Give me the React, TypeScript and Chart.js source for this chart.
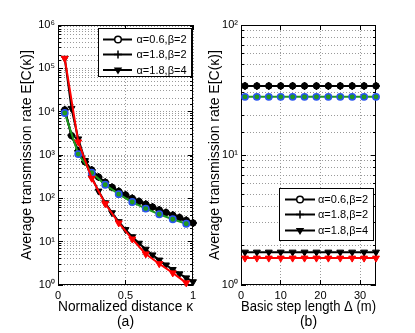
import React, { useEffect, useRef } from 'react';
import { Chart, registerables } from 'chart.js';
Chart.register(...registerables);

// ---------- data ----------
const kappaFine = [0.05, 0.1, 0.15, 0.2, 0.25, 0.3, 0.35, 0.4, 0.45, 0.5, 0.55, 0.6, 0.65, 0.7, 0.75, 0.8, 0.85, 0.9, 0.95, 1.0];
const kappaCoarse = [0.05, 0.15, 0.25, 0.35, 0.45, 0.55, 0.65, 0.75, 0.85, 0.95];

const leftA06B2 = [11000, 2800, 1250, 700, 450, 310, 235, 180, 145, 120, 100, 85, 73, 63, 54, 47, 41, 36, 31, 27];
const leftA18B2 = [11000, 2800, 1250, 700, 450, 310, 235, 180, 145, 120, 100, 85, 73, 63, 54, 47, 41, 36, 31, 27];
const leftA18B4 = [170000, 11900, 2350, 745, 305, 147, 79, 46.5, 29, 19, 13, 9.2, 6.7, 4.95, 3.76, 2.9, 2.28, 1.81, 1.46, 1.19];
const leftTheoryB2 = [9300, 1050, 390, 205, 125, 82, 58, 43, 33, 26];
const leftTheoryB4 = [170000, 2000, 290, 75, 27, 11.5, 5.2, 3.1, 1.9, 1.12];

const stepLength = [1, 4, 7, 10, 13, 16, 19, 22, 25, 28, 31, 34];
const rightA06B2 = [34, 34, 34, 34, 34, 34, 34, 34, 34, 34, 34, 34];
const rightA18B2 = [34, 34, 34, 34, 34, 34, 34, 34, 34, 34, 34, 34];
const rightA18B4 = [1.79, 1.79, 1.79, 1.79, 1.79, 1.79, 1.79, 1.79, 1.79, 1.79, 1.79, 1.79];
const rightTheoryB2 = [28, 28, 28, 28, 28, 28, 28, 28, 28, 28, 28, 28];
const rightTheoryB4 = [1.61, 1.61, 1.61, 1.61, 1.61, 1.61, 1.61, 1.61, 1.61, 1.61, 1.61, 1.61];

const legendLabels = ['α=0.6,β=2', 'α=1.8,β=2', 'α=1.8,β=4'];
const yTitle = 'Average transmission rate E[C(κ)]';
const leftXTitle = ['Normalized distance κ', '(a)'];
const rightXTitle = ['Basic step length Δ (m)', '(b)'];

// ---------- styling ----------
const FONT = '"Liberation Sans", Arial, Helvetica, sans-serif';
const SUP = ['⁰', '¹', '²', '³', '⁴', '⁵', '⁶', '⁷', '⁸', '⁹'];
const GREEN = '#1f9a1f';
const BLUE = '#2a55f0';
const RED = '#ff0000';

const pts = (xs: number[], ys: number[]) => xs.map((x, i) => ({ x, y: ys[i] }));

function makeDatasets(xFine: number[], xCoarse: number[], a06: number[], a18b2: number[], a18b4: number[], thB2: number[], thB4: number[]) {
  return [
    {
      data: pts(xCoarse, thB4), showLine: true, borderColor: RED, borderWidth: 2,
      pointStyle: 'triangle', rotation: 180, pointRadius: 4, pointBackgroundColor: RED, pointBorderColor: RED, pointBorderWidth: 1, clip: false,
    },
    {
      data: pts(xCoarse, thB2), showLine: true, borderColor: GREEN, borderWidth: 2,
      pointStyle: 'circle', pointRadius: 3.2, pointBackgroundColor: GREEN, pointBorderColor: BLUE, pointBorderWidth: 1.5, clip: false,
    },
    {
      data: pts(xFine, a18b4), showLine: true, borderColor: '#000', borderWidth: 2,
      pointStyle: 'triangle', rotation: 180, pointRadius: 4, pointBackgroundColor: '#000', pointBorderColor: '#000', pointBorderWidth: 1, clip: false,
    },
    {
      data: pts(xFine, a06), showLine: true, borderColor: '#000', borderWidth: 2,
      pointStyle: 'circle', pointRadius: 3.2, pointBackgroundColor: '#000', pointBorderColor: '#000', pointBorderWidth: 1, clip: false,
    },
    {
      data: pts(xFine, a18b2), showLine: true, borderColor: '#000', borderWidth: 2,
      pointStyle: 'cross', pointRadius: 4, pointBorderColor: '#000', pointBorderWidth: 1.5, clip: false,
    },
  ];
}

type LegendCfg = { x: number; y: number; w: number; h: number; rows: number[]; l1: number; l2: number; m: number; t: number };

function matlabPlugin(legend: LegendCfg) {
  return {
    id: 'matlabAxes',
    beforeDatasetsDraw(chart: any) {
      const { ctx, chartArea: a } = chart;
      const xs = chart.scales.x;
      const ys = chart.scales.y;
      ctx.save();
      ctx.strokeStyle = '#000';
      ctx.lineWidth = 1;
      ctx.beginPath();
      ys.ticks.forEach((t: any) => {
        const y = Math.round(ys.getPixelForValue(t.value) - 0.5) + 0.5;
        const e = Math.log10(t.value);
        const major = Math.abs(e - Math.round(e)) < 1e-9;
        const len = major ? 5 : 3;
        ctx.moveTo(a.left, y); ctx.lineTo(a.left + len, y);
        ctx.moveTo(a.right, y); ctx.lineTo(a.right - len, y);
      });
      xs.ticks.forEach((t: any) => {
        const x = Math.round(xs.getPixelForValue(t.value) - 0.5) + 0.5;
        ctx.moveTo(x, a.bottom); ctx.lineTo(x, a.bottom - 5);
        ctx.moveTo(x, a.top); ctx.lineTo(x, a.top + 5);
      });
      ctx.stroke();
      ctx.strokeRect(a.left + 0.5, a.top + 0.5, a.right - a.left - 1, a.bottom - a.top - 1);
      ctx.restore();
    },
    afterDatasetsDraw(chart: any) {
      const { ctx } = chart;
      const L = legend;
      ctx.save();
      ctx.fillStyle = '#fff';
      ctx.fillRect(L.x, L.y, L.w, L.h);
      ctx.strokeStyle = '#000';
      ctx.lineWidth = 1;
      ctx.strokeRect(L.x + 0.5, L.y + 0.5, L.w - 1, L.h - 1);
      ctx.font = `11px ${FONT}`;
      ctx.textBaseline = 'middle';
      ctx.textAlign = 'left';
      legendLabels.forEach((lab, i) => {
        const y = L.y + L.rows[i];
        const mx = L.x + L.m;
        ctx.strokeStyle = '#000';
        ctx.lineWidth = 2;
        ctx.beginPath();
        ctx.moveTo(L.x + L.l1, y); ctx.lineTo(L.x + L.l2, y);
        ctx.stroke();
        ctx.lineWidth = 1.5;
        if (i === 0) {
          ctx.beginPath();
          ctx.arc(mx, y, 3.3, 0, Math.PI * 2);
          ctx.fillStyle = '#fff';
          ctx.fill();
          ctx.stroke();
        } else if (i === 1) {
          ctx.beginPath();
          ctx.moveTo(mx - 4, y); ctx.lineTo(mx + 4, y);
          ctx.moveTo(mx, y - 4); ctx.lineTo(mx, y + 4);
          ctx.stroke();
        } else {
          ctx.beginPath();
          ctx.moveTo(mx, y + 4.5);
          ctx.lineTo(mx - 4.2, y - 2.6);
          ctx.lineTo(mx + 4.2, y - 2.6);
          ctx.closePath();
          ctx.fillStyle = '#000';
          ctx.fill();
        }
        ctx.fillStyle = '#000';
        ctx.fillText(lab, L.x + L.t, y + 0.5);
      });
      ctx.restore();
    },
  };
}

function makeConfig(opts: {
  datasets: any[]; xMin: number; xMax: number; xStep: number; yMin: number; yMax: number;
  xTitle: string[]; yAxisWidth: number; titlePad: number; padRight: number; legend: LegendCfg;
}) {
  const tickFont = { family: FONT, size: 11 };
  return {
    type: 'scatter',
    data: { datasets: opts.datasets },
    plugins: [matlabPlugin(opts.legend)],
    options: {
      responsive: false,
      animation: false,
      events: [],
      layout: { padding: { left: 0, top: 25, right: opts.padRight, bottom: 0 } },
      plugins: { legend: { display: false }, tooltip: { enabled: false } },
      scales: {
        x: {
          type: 'linear', min: opts.xMin, max: opts.xMax,
          afterFit: (s: any) => { s.height = 48; },
          ticks: {
            stepSize: opts.xStep, includeBounds: false, padding: 4, font: tickFont, color: '#000',
            autoSkip: false, maxRotation: 0,
            callback: (v: any) => String(Math.round(Number(v) * 1000) / 1000),
          },
          grid: { color: '#9a9a9a', drawTicks: false, lineWidth: 1 },
          border: { display: false, dash: [1, 2] },
          title: {
            display: true, text: opts.xTitle, color: '#000',
            font: { family: FONT, size: 14, lineHeight: 15 / 14 }, padding: { top: 0, bottom: 3 },
          },
        },
        y: {
          type: 'logarithmic', min: opts.yMin, max: opts.yMax,
          afterFit: (s: any) => { s.width = opts.yAxisWidth; },
          ticks: {
            padding: 3, font: tickFont, color: '#000', autoSkip: false,
            callback: (v: any) => {
              const e = Math.log10(Number(v));
              const r = Math.round(e);
              return Math.abs(e - r) < 1e-9 ? '10' + SUP[r] : '';
            },
          },
          grid: { color: '#9a9a9a', drawTicks: false, lineWidth: 1 },
          border: { display: false, dash: [1, 2] },
          title: {
            display: true, text: yTitle, color: '#000',
            font: { family: FONT, size: 14, lineHeight: 1.2 }, padding: { top: opts.titlePad, bottom: 0 },
          },
        },
      },
    },
  };
}

export default function App() {
  const leftRef = useRef<HTMLCanvasElement>(null);
  const rightRef = useRef<HTMLCanvasElement>(null);

  useEffect(() => {
    const left = new Chart(leftRef.current as HTMLCanvasElement, makeConfig({
      datasets: makeDatasets(kappaFine, kappaCoarse, leftA06B2, leftA18B2, leftA18B4, leftTheoryB2, leftTheoryB4),
      xMin: 0, xMax: 1, xStep: 0.5, yMin: 1, yMax: 1e6, xTitle: leftXTitle,
      yAxisWidth: 58, titlePad: 19, padRight: 14,
      legend: { x: 98, y: 28, w: 94, h: 49, rows: [11.5, 26.5, 42], l1: 5, l2: 34, m: 20, t: 38.5 },
    }) as any);
    const right = new Chart(rightRef.current as HTMLCanvasElement, makeConfig({
      datasets: makeDatasets(stepLength, stepLength, rightA06B2, rightA18B2, rightA18B4, rightTheoryB2, rightTheoryB4),
      xMin: 0, xMax: 34, xStep: 10, yMin: 1, yMax: 100, xTitle: rightXTitle,
      yAxisWidth: 34, titlePad: 0, padRight: 39,
      legend: { x: 72, y: 188, w: 95, h: 53, rows: [11.5, 26.5, 42.5], l1: 6, l2: 36, m: 21, t: 39 },
    }) as any);
    return () => { left.destroy(); right.destroy(); };
  }, []);

  return (
    <div style={{ position: 'fixed', left: 0, top: 0, width: 415, height: 333, background: '#fff' }}>
      <canvas ref={leftRef} width={207} height={333} style={{ position: 'absolute', left: 0, top: 0, display: 'block' }} />
      <canvas ref={rightRef} width={208} height={333} style={{ position: 'absolute', left: 207, top: 0, display: 'block' }} />
    </div>
  );
}
